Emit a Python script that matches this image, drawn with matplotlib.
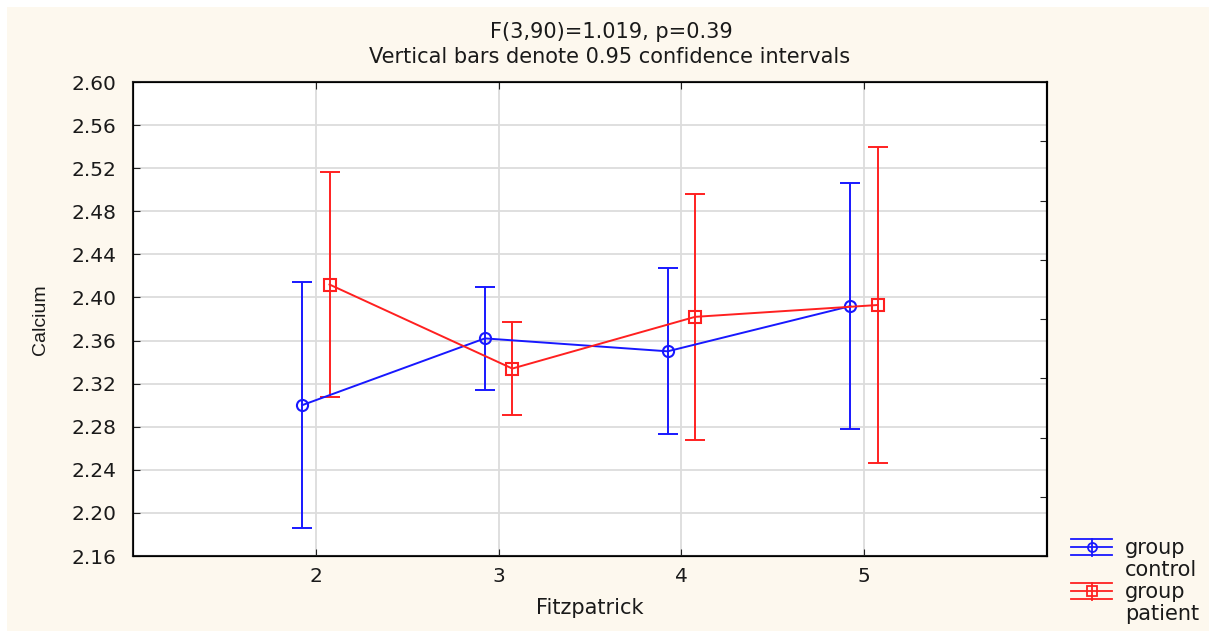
import matplotlib
matplotlib.use("Agg")
import matplotlib.pyplot as plt
from matplotlib.lines import Line2D
from matplotlib.patches import Rectangle
import numpy as np

plt.rcParams['font.family'] = ['DejaVu Sans']

categories = [2, 3, 4, 5]
control_mean = [2.300, 2.362, 2.350, 2.392]
control_low = [2.186, 2.314, 2.273, 2.278]
control_high = [2.414, 2.410, 2.427, 2.506]
patient_mean = [2.412, 2.334, 2.382, 2.393]
patient_low = [2.308, 2.291, 2.268, 2.246]
patient_high = [2.516, 2.377, 2.496, 2.540]
yticks = [2.16, 2.20, 2.24, 2.28, 2.32, 2.36, 2.40, 2.44, 2.48, 2.52, 2.56, 2.60]
title1 = "F(3,90)=1.019, p=0.39"
title2 = "Vertical bars denote 0.95 confidence intervals"

W, H = 1209, 631
fig = plt.figure(figsize=(W/100, H/100), dpi=100)
fig.patch.set_facecolor('white')
cream = '#FDF8EE'
fig.patches.append(Rectangle((7/W, 0), 1, 1 - 7/H, transform=fig.transFigure,
                             facecolor=cream, edgecolor='none', zorder=-10))

ax = fig.add_axes([133/W, 1 - 556/H, (1047-133)/W, (556-82)/H])
ax.set_facecolor('white')

x = np.array(categories, dtype=float)
off = 0.075
blue = '#1818FF'
red = '#FF2020'

def draw(xs, mean, lo, hi, color, marker, ms):
    mean = np.array(mean); lo = np.array(lo); hi = np.array(hi)
    ax.errorbar(xs, mean, yerr=[mean - lo, hi - mean], fmt='none', ecolor=color,
                elinewidth=1.4, capsize=7, capthick=1.4, zorder=3)
    ax.plot(xs, mean, color=color, lw=1.4, marker=marker, ms=ms,
            mfc='none', mec=color, mew=1.5, zorder=4)

draw(x - off, control_mean, control_low, control_high, blue, 'o', 8)
draw(x + off, patient_mean, patient_low, patient_high, red, 's', 8)

ax.set_xlim(1, 6)
ax.set_ylim(2.16, 2.60)
ax.set_xticks(categories)
ax.set_xticklabels([str(c) for c in categories])
ax.set_yticks(yticks)
ax.set_yticklabels([f"{t:.2f}" for t in yticks])
ax.grid(True, color='#DCDCDC', lw=1.3, zorder=0)
ax.set_axisbelow(True)
ax.tick_params(axis='y', direction='in', length=5, labelsize=14.5, pad=12,
               colors='#222222', labelcolor='#1a1a1a')
ax.tick_params(axis='x', direction='in', length=5, labelsize=14.5, pad=8,
               top=True, colors='#222222', labelcolor='#1a1a1a')
for s in ax.spines.values():
    s.set_color('#222222')
    s.set_linewidth(1.5)

# right side inward ticks
ax2 = ax.twinx()
ax2.set_ylim(2.16, 2.60)
ax2.set_yticks(np.linspace(2.16, 2.60, 9))
ax2.tick_params(axis='y', direction='in', length=5, labelright=False, colors='#222222')
ax2.spines['right'].set_linewidth(1.5)

fig.text(590/W, 1 - 608/H, "Fitzpatrick", ha='center', va='center',
         fontsize=15, color='#1a1a1a')
fig.text(40/W, 1 - 320/H, "Calcium", rotation=90, ha='center', va='center',
         fontsize=14, color='#1a1a1a', family='Liberation Sans')

fig.text(611/W, 1 - 32/H, title1, ha='center', va='center', fontsize=15, color='#1a1a1a')
fig.text(610/W, 1 - 57/H, title2, ha='center', va='center', fontsize=15, color='#1a1a1a')

# legend drawn in figure coords (Statistica style)
def leg(y, color, marker, l1, l2):
    x0, x1 = 1071/W, 1112/W
    xm = (x0 + x1) / 2
    for dy in (-8, 0, 8):
        fig.add_artist(Line2D([x0, x1], [1 - (y + dy)/H]*2, color=color, lw=1.3,
                              transform=fig.transFigure))
    fig.add_artist(Line2D([xm, xm], [1 - (y - 8)/H, 1 - (y + 9)/H], color=color, lw=1.3,
                          transform=fig.transFigure))
    fig.add_artist(Line2D([xm], [1 - y/H], marker=marker, ms=6.5, mfc='none', mec=color,
                          mew=1.3, color=color, transform=fig.transFigure))
    fig.text(1125/W, 1 - (y + 1)/H, l1, ha='left', va='center', fontsize=15, color='#1a1a1a')
    fig.text(1125/W, 1 - (y + 23)/H, l2, ha='left', va='center', fontsize=15, color='#1a1a1a')

leg(547, blue, 'o', 'group', 'control')
leg(591, red, 's', 'group', 'patient')

fig.savefig('out.png', dpi=100, facecolor=fig.get_facecolor())
